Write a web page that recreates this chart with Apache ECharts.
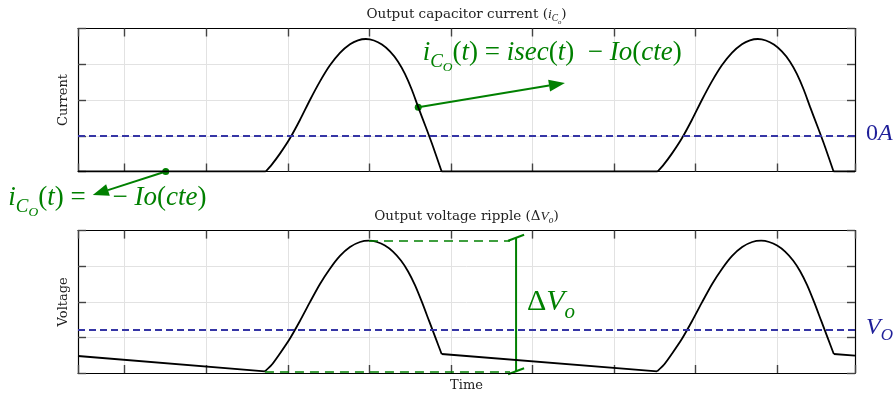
<!DOCTYPE html>
<html>
<head>
<meta charset="utf-8">
<title>Output capacitor current and voltage ripple</title>
<script src="https://cdn.jsdelivr.net/npm/echarts@6/dist/echarts.min.js"></script>
<style>
  html, body { margin: 0; padding: 0; background: #fff; }
  #chart { width: 893px; height: 394px; }
</style>
</head>
<body>
<div id="chart"></div>
<script>
// x in tick units (ticks at 0..8), y in grid steps (0..4)
const xRange = [-0.573, 8.957];
const yRange = [0, 4];

// capacitor current: flat parts (-Io) and the two charging pulses
const currentFlat = [
  [[-0.573, 0], [1.729, 0]],
  [[3.887, 0], [6.536, 0]],
  [[8.694, 0], [8.957, 0]]
];
const currentPulse1 = [
  [1.729, 0], [1.806, 0.2], [1.904, 0.5], [2.027, 0.93], [2.149, 1.44], [2.272, 2.0],
  [2.395, 2.52], [2.517, 2.97], [2.640, 3.32], [2.763, 3.56], [2.861, 3.67], [2.959, 3.706],
  [3.057, 3.665], [3.155, 3.55], [3.253, 3.36], [3.351, 3.08], [3.437, 2.73], [3.523, 2.28],
  [3.600, 1.80], [3.695, 1.23], [3.781, 0.70], [3.887, 0]
];
const currentPulse2 = [
  [6.536, 0], [6.613, 0.2], [6.711, 0.5], [6.834, 0.93], [6.956, 1.44], [7.079, 2.0],
  [7.202, 2.52], [7.324, 2.97], [7.447, 3.32], [7.570, 3.56], [7.668, 3.67], [7.766, 3.706],
  [7.864, 3.665], [7.962, 3.55], [8.060, 3.36], [8.158, 3.08], [8.244, 2.73], [8.330, 2.28],
  [8.407, 1.80], [8.502, 1.23], [8.588, 0.70], [8.694, 0]
];

// output voltage: discharge ramps and the two charging humps
const voltageDischarge = [
  [[-0.573, 0.478], [1.720, 0.048]],
  [[3.887, 0.534], [6.530, 0.048]],
  [[8.697, 0.534], [8.957, 0.486]]
];
const voltagePulse1 = [
  [1.720, 0.048], [1.806, 0.24], [1.904, 0.55], [2.027, 0.97], [2.149, 1.46], [2.272, 1.99],
  [2.395, 2.50], [2.517, 2.93], [2.640, 3.29], [2.763, 3.54], [2.886, 3.68], [2.996, 3.716],
  [3.094, 3.68], [3.192, 3.58], [3.290, 3.41], [3.388, 3.16], [3.474, 2.86], [3.560, 2.47],
  [3.646, 1.99], [3.732, 1.47], [3.818, 0.95], [3.887, 0.534]
];
const voltagePulse2 = [
  [6.530, 0.048], [6.616, 0.24], [6.714, 0.55], [6.837, 0.97], [6.959, 1.46], [7.082, 1.99],
  [7.205, 2.50], [7.327, 2.93], [7.450, 3.29], [7.573, 3.54], [7.696, 3.68], [7.806, 3.716],
  [7.904, 3.68], [8.002, 3.58], [8.100, 3.41], [8.198, 3.16], [8.284, 2.86], [8.370, 2.47],
  [8.456, 1.99], [8.542, 1.47], [8.628, 0.95], [8.697, 0.534]
];

const zeroCurrentLevel = 1;
const outputVoltageLevel = 1.21;

// annotation anchors, data units
const pulseArrow = [[3.600, 1.80], [5.399, 2.476]];
const flatArrow = [[0.503, 0], [-0.392, -0.657]];
const rippleTop = [2.996, 3.716];
const rippleBottom = [1.720, 0.048];
const rippleX = 4.80;
const rippleDashEnd = 4.726;

const green = '#008000';
const navy = '#1f1f99';
const dashBlue = '#3535a5';
const serif = '"DejaVu Serif", serif';
const mathSerif = '"Liberation Serif", "DejaVu Serif", serif';

const chart = echarts.init(document.getElementById('chart'));

function xAx(grid, pos, name) {
  return {
    type: 'value', gridIndex: grid, position: pos,
    min: xRange[0], max: xRange[1], splitNumber: 9, minInterval: 1, maxInterval: 1,
    name: name || '', nameLocation: 'middle', nameGap: 6,
    nameTextStyle: { fontFamily: serif, fontSize: 13, color: '#222' },
    axisLine: { show: true, onZero: false, lineStyle: { color: '#000', width: 1.2 } },
    axisTick: { show: true, inside: true, length: 8, lineStyle: { color: '#444', width: 1.4 } },
    axisLabel: { show: false },
    splitLine: { show: pos === 'bottom', lineStyle: { color: '#e2e2e2', width: 1 } }
  };
}
function yAx(grid, pos, name) {
  return {
    type: 'value', gridIndex: grid, position: pos,
    min: yRange[0], max: yRange[1], interval: 1,
    name: name || '', nameLocation: 'middle', nameGap: 8,
    nameTextStyle: { fontFamily: serif, fontSize: 13, color: '#222' },
    axisLine: { show: true, onZero: false, lineStyle: { color: '#000', width: 1.2 } },
    axisTick: { show: true, inside: true, length: 8, lineStyle: { color: '#444', width: 1.4 } },
    axisLabel: { show: false },
    splitLine: { show: pos === 'left', lineStyle: { color: '#e2e2e2', width: 1 } }
  };
}

function curve(data, ax, smooth) {
  return {
    type: 'line', xAxisIndex: ax, yAxisIndex: ax, data: data,
    smooth: smooth, symbol: 'none', silent: true, z: 3,
    lineStyle: { color: '#000', width: 1.8 }
  };
}

function levelLine(level, labelText, rich) {
  return {
    silent: true, symbol: 'none', animation: false,
    lineStyle: { type: [7, 4], color: dashBlue, width: 2 },
    label: { show: true, position: 'end', distance: 11, formatter: labelText, rich: rich },
    data: [{ yAxis: level }]
  };
}

const labelRich = {
  r: { fontFamily: mathSerif, fontSize: 24, color: navy, lineHeight: 28, verticalAlign: 'top' },
  i: { fontFamily: mathSerif, fontSize: 24, fontStyle: 'italic', color: navy, lineHeight: 28, verticalAlign: 'top' },
  s: { fontFamily: mathSerif, fontSize: 17, fontStyle: 'italic', color: navy, lineHeight: 18, padding: [11, 0, 0, 0], verticalAlign: 'top' }
};

const pulse1 = curve(currentPulse1, 0, 0.25);
pulse1.markLine = levelLine(zeroCurrentLevel, '{r|0}{i|A}', labelRich);

const vPulse1 = curve(voltagePulse1, 2, 0.25);
vPulse1.markLine = levelLine(outputVoltageLevel, '{i|V}{s|O}', labelRich);

const vPulse2 = curve(voltagePulse2, 2, 0.25);
vPulse2.markLine = {
  silent: true, symbol: 'none', animation: false,
  lineStyle: { type: [9, 6], color: green, width: 1.6 },
  label: { show: false },
  data: [
    [{ coord: rippleTop }, { coord: [rippleDashEnd, rippleTop[1]] }],
    [{ coord: rippleBottom }, { coord: [rippleDashEnd, rippleBottom[1]] }]
  ]
};

const series = [];
currentFlat.forEach(seg => series.push(curve(seg, 0, false)));
series.push(pulse1, curve(currentPulse2, 0, 0.25));
voltageDischarge.forEach(seg => series.push(curve(seg, 2, false)));
series.push(vPulse1, vPulse2);

chart.setOption({
  animation: false,
  backgroundColor: '#fff',
  grid: [
    { left: 78, right: 38, top: 28.5, height: 143 },
    { left: 78, right: 38, top: 230.6, height: 142.4 }
  ],
  xAxis: [xAx(0, 'bottom'), xAx(0, 'top'), xAx(1, 'bottom', 'Time'), xAx(1, 'top')],
  yAxis: [yAx(0, 'left', 'Current'), yAx(0, 'right'), yAx(1, 'left', 'Voltage'), yAx(1, 'right')],
  series: series
});

// ---- annotations (positions taken from the axes) ----
const toTop = p => chart.convertToPixel({ xAxisIndex: 0, yAxisIndex: 0 }, p);
const toBot = p => chart.convertToPixel({ xAxisIndex: 2, yAxisIndex: 2 }, p);

function arrow(a, b) {
  const dx = b[0] - a[0], dy = b[1] - a[1];
  const len = Math.hypot(dx, dy), ux = dx / len, uy = dy / len;
  const headLen = 16, headW = 6;
  const bx = b[0] - ux * headLen, by = b[1] - uy * headLen;
  return [
    { type: 'line', shape: { x1: a[0], y1: a[1], x2: bx, y2: by }, style: { stroke: green, lineWidth: 2 } },
    { type: 'polygon', shape: { points: [b, [bx - uy * headW, by + ux * headW], [bx + uy * headW, by - ux * headW]] }, style: { fill: green } },
    { type: 'circle', shape: { cx: a[0], cy: a[1], r: 3.5 }, style: { fill: green } }
  ];
}

function mathRich(size, color, upFont) {
  const lh = Math.round(size * 1.2);
  const s1 = size * 0.7, s2 = size * 0.5;
  const lh1 = Math.round(s1 * 1.05), lh2 = Math.round(s2 * 1.05);
  return {
    rm: { fontFamily: upFont || mathSerif, fontSize: size, lineHeight: lh, verticalAlign: 'top', fill: color },
    it: { fontFamily: mathSerif, fontStyle: 'italic', fontSize: size, lineHeight: lh, verticalAlign: 'top', fill: color },
    s1: { fontFamily: mathSerif, fontStyle: 'italic', fontSize: s1, lineHeight: lh1, verticalAlign: 'top', fill: color,
          padding: [Math.max(0, lh / 2 + size * 0.26 - lh1 / 2), 0, 0, 0] },
    s2: { fontFamily: mathSerif, fontStyle: 'italic', fontSize: s2, lineHeight: lh2, verticalAlign: 'top', fill: color,
          padding: [Math.max(0, lh / 2 + size * 0.46 - lh2 / 2), 0, 0, 0] }
  };
}

function label(x, y, text, rich, align) {
  return { type: 'text', x: x, y: y, silent: true,
           style: { text: text, rich: rich, align: align || 'left', verticalAlign: 'middle' } };
}

const titleRich = mathRich(13.5, '#222', serif);
const bigRich = mathRich(27, green);
const deltaRich = mathRich(30, green);

const pa0 = toTop(pulseArrow[0]), pa1 = toTop(pulseArrow[1]);
const fa0 = toTop(flatArrow[0]), fa1 = toTop(flatArrow[1]);
const rt = toBot([rippleX, rippleTop[1]]), rb = toBot([rippleX, rippleBottom[1]]);
const gridMid = (toTop([xRange[0], 0])[0] + toTop([xRange[1], 0])[0]) / 2;

const tick = (c) => ({ type: 'line', shape: { x1: c[0] - 8, y1: c[1] + 3, x2: c[0] + 8, y2: c[1] - 3 },
                       style: { stroke: green, lineWidth: 2 } });

const graphics = [].concat(
  arrow(pa0, pa1),
  arrow(fa0, fa1),
  [
    { type: 'line', shape: { x1: rt[0], y1: rt[1] - 3, x2: rb[0], y2: rb[1] }, style: { stroke: green, lineWidth: 2 } },
    tick([rt[0], rt[1] - 3]),
    tick(rb),
    label(gridMid, 15.7, '{rm|Output capacitor current (}{it|i}{s1|C}{s2|o}{rm|)}', titleRich, 'center'),
    label(gridMid, 217.3, '{rm|Output voltage ripple (Δ}{it|V}{s1|o}{rm|)}', titleRich, 'center'),
    label(422.7, 55.3, '{it|i}{s1|C}{s2|O}{rm|(}{it|t}{rm|) = }{it|isec}{rm|(}{it|t}{rm|)  − }{it|Io}{rm|(}{it|cte}{rm|)}', bigRich),
    label(8.3, 200.5, '{it|i}{s1|C}{s2|O}{rm|(}{it|t}{rm|) =    − }{it|Io}{rm|(}{it|cte}{rm|)}', bigRich),
    label(527, 305, '{rm|Δ}{it|V}{s1|o}', deltaRich)
  ]
);

chart.setOption({ graphic: graphics });
</script>
</body>
</html>
